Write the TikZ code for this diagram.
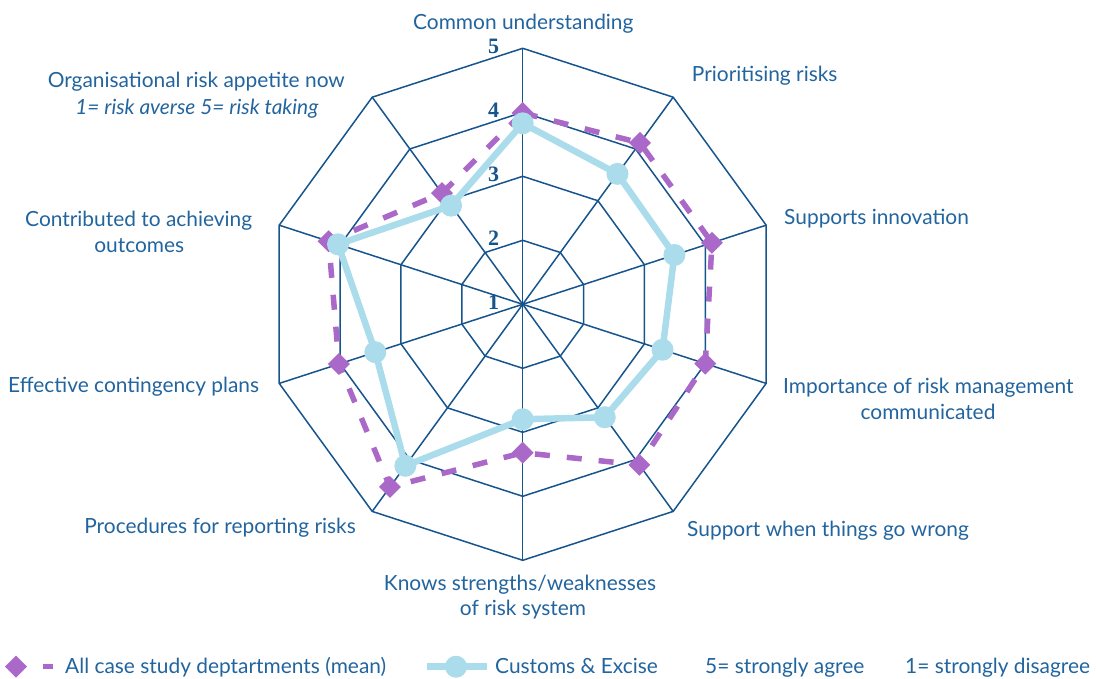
\documentclass[tikz,border=0pt]{standalone}
\usepackage{fontspec}
\setmainfont{Lato}
\newfontfamily\numfont{Liberation Serif}
\definecolor{gridc}{RGB}{22,84,140}
\definecolor{txtc}{RGB}{34,100,158}
\definecolor{purp}{RGB}{170,104,200}
\definecolor{lblue}{RGB}{170,220,235}
\begin{document}
\begin{tikzpicture}[x=1pt,y=1pt,
  lbl/.style={text=txtc,font=\fontsize{20.9}{24}\selectfont,inner sep=0pt},
  ilbl/.style={lbl,font=\fontsize{20.9}{24}\selectfont\itshape},
  num/.style={text=gridc,inner sep=0pt,anchor=base},
  gridline/.style={draw=gridc,line width=1.5pt,line join=miter},
  meanline/.style={draw=purp,line width=5.5pt,dash pattern=on 15pt off 17pt},
  cusline/.style={draw=lblue,line width=6.5pt,line join=round},
  dmark/.style={fill=purp,draw=none,rectangle,rotate=45,minimum size=15.5pt,inner sep=0pt},
  cmark/.style={fill=lblue,draw=none,circle,minimum size=22pt,inner sep=0pt}]
\newcommand\numtxt[1]{{\numfont\bfseries\fontsize{22}{24}\selectfont #1}}
\useasboundingbox (0,0) rectangle (1096,-679);
\begin{scope}[shift={(522.7,-304.3)}]
  \coordinate (c) at (0,0);
  \foreach \r in {64,128,192,256}
    \draw[gridline] (90:\r) -- (54:\r) -- (18:\r) -- (-18:\r) -- (-54:\r) -- (-90:\r) -- (-126:\r) -- (-162:\r) -- (162:\r) -- (126:\r) -- cycle;
  \foreach \a [count=\i] in {90,54,18,-18,-54,-90,-126,-162,162,126} {
    \coordinate (v\i) at (\a:256);
    \draw[gridline] (c) -- (v\i);
  }
  \foreach \a/\r [count=\i] in {90/191.3,54/199.5,18/199,-18/192,-54/198.5,-90/148.4,-126/225.8,-162/193.2,162/204,126/137.4}
    \coordinate (p\i) at (\a:\r);
  \foreach \a/\r [count=\i] in {90/181,54/161.2,18/159.5,-18/147,-54/139.6,-90/115,-126/199.6,-162/155,162/194.2,126/121.9}
    \coordinate (b\i) at (\a:\r);
  \draw[meanline] (p1) -- (p2) -- (p3) -- (p4) -- (p5) -- (p6) -- (p7) -- (p8) -- (p9) -- (p10) -- cycle;
  \foreach \i in {1,...,10} \node[dmark] (pm\i) at (p\i) {};
  \draw[cusline] (b1) -- (b2) -- (b3) -- (b4) -- (b5) -- (b6) -- (b7) -- (b8) -- (b9) -- (b10) -- cycle;
  \foreach \i in {1,...,10} \node[cmark] (bm\i) at (b\i) {};
\end{scope}
% scale numbers
\node[num] (n5) at (493.5,-53.3) {\numtxt{5}};
\node[num] (n4) at (493.5,-117.3) {\numtxt{4}};
\node[num] (n3) at (493.5,-181.3) {\numtxt{3}};
\node[num] (n2) at (493.5,-245.3) {\numtxt{2}};
\node[num] (n1) at (493.5,-309.3) {\numtxt{1}};
% axis labels
\node[lbl,anchor=base] (l1) at (523.3,-30) {Common understanding};
\node[lbl,anchor=base west] (l2) at (691.7,-81.7) {Prioritising risks};
\node[lbl,anchor=base west] (l3) at (784,-224.3) {Supports innovation};
\node[lbl,anchor=base west] (l4a) at (783,-393.3) {Importance of risk management};
\node[lbl,anchor=base] (l4b) at (928,-419) {communicated};
\node[lbl,anchor=base west] (l5) at (687,-536) {Support when things go wrong};
\node[lbl,anchor=base] (l6a) at (520,-590) {Knows strengths/weaknesses};
\node[lbl,anchor=base] (l6b) at (523,-615) {of risk system};
\node[lbl,anchor=base east] (l7) at (356,-533.3) {Procedures for reporting risks};
\node[lbl,anchor=base east] (l8) at (259.3,-392.7) {Effective contingency plans};
\node[lbl,anchor=base] (l9a) at (138.7,-226.7) {Contributed to achieving};
\node[lbl,anchor=base] (l9b) at (139.3,-252.3) {outcomes};
\node[lbl,anchor=base] (l10a) at (196.3,-87.7) {Organisational risk appetite now};
\node[ilbl,anchor=base] (l10b) at (196.8,-114.3) {1= risk averse 5= risk taking};
% legend
\node[dmark] (lgd) at (16,-666.7) {};
\coordinate (lgp1) at (43,-666.7);
\coordinate (lgp2) at (53,-666.7);
\draw[draw=purp,line width=5.5pt] (lgp1) -- (lgp2);
\node[lbl,anchor=base west] (lgt1) at (65,-673.3) {All case study deptartments (mean)};
\coordinate (lgb1) at (427,-666.7);
\coordinate (lgb2) at (487,-666.7);
\draw[cusline] (lgb1) -- (lgb2);
\node[cmark] (lgc) at (456,-666.7) {};
\node[lbl,anchor=base west] (lgt2) at (495,-673.3) {Customs \& Excise};
\node[lbl,anchor=base west] (lgt3) at (705,-673.3) {5= strongly agree};
\node[lbl,anchor=base west] (lgt4) at (905,-673.3) {1= strongly disagree};
\end{tikzpicture}
\end{document}
